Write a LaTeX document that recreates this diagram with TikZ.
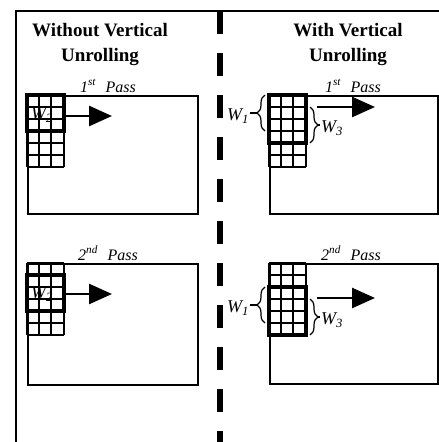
\documentclass[tikz,border=0pt]{standalone}
\usepackage{fontspec}
\setmainfont{Liberation Serif}
\usetikzlibrary{arrows.meta, decorations.pathreplacing}

\begin{document}
\begin{tikzpicture}[x=1pt, y=-1pt,
                    title text/.style={font=\fontsize{19}{25}\selectfont\bfseries, align=center},
                    pass text/.style={font=\fontsize{16}{18}\selectfont\itshape, anchor=base, inner sep=0pt},
                    pass box/.style={draw, line width=1.5pt, anchor=north west, inner sep=0pt,
                                     minimum width=170pt, minimum height=118pt},
                    win text/.style={font=\fontsize{18}{20}\selectfont\itshape, inner sep=1pt},
                    grid line/.style={line width=2pt},
                    win line/.style={line width=3.2pt},
                    move arrow/.style={line width=2.6pt, -{Triangle[length=23pt, width=20pt]}},
                    win brace/.style={decorate, decoration={brace, amplitude=8pt}, line width=1.2pt}]

    \useasboundingbox (0,0) rectangle (439,442);

    % frame and divider
    \draw[line width=1.5pt] (16,442) -- (16,11) -- (439,11);
    \draw[line width=6pt, dash pattern=on 23pt off 19pt] (220,11) -- (220,442);

    \node[title text] (titleL) at (100,45) {Without Vertical\\Unrolling};
    \node[title text] (titleR) at (348,45) {With Vertical\\Unrolling};

    \node[pass box]                                        (boxL1) at (27,95)  {};
    \node[pass box, minimum width=168pt]                   (boxR1) at (269,95) {};
    \node[pass box, minimum height=121pt]                  (boxL2) at (27,263) {};
    \node[pass box, minimum width=168pt, minimum height=120pt] (boxR2) at (269,263) {};

    \node[pass text] (passL1) at (108,92)  {1\textsuperscript{st}\hspace{0.6em}Pass};
    \node[pass text] (passR1) at (353,92)  {1\textsuperscript{st}\hspace{0.6em}Pass};
    \node[pass text] (passL2) at (108,260) {2\textsuperscript{nd}\hspace{0.6em}Pass};
    \node[pass text] (passR2) at (351,260) {2\textsuperscript{nd}\hspace{0.6em}Pass};

    % window grids (x, y, first thick row, thick rows)
    \foreach \gx/\gy/\wa/\wn in {27/95/0/3, 27/263/1/3, 269/95/0/4, 269/263/2/4} {
        \draw[grid line] (\gx,\gy) -- ++(0,72) (\gx+12,\gy) -- ++(0,72)
                         (\gx+24,\gy) -- ++(0,72) (\gx+37,\gy) -- ++(0,72);
        \foreach \rr in {0,...,6}
            \draw[grid line] (\gx,\gy+12*\rr) -- ++(37,0);
        \draw[win line] (\gx,\gy+12*\wa) rectangle ++(37,12*\wn);
    }

    \node[win text] (wL1) at (42,115) {W\textsubscript{2}};
    \node[win text] (wL2) at (42,294) {W\textsubscript{2}};

    % scan arrows
    \coordinate (aL1s) at (64,116);  \coordinate (aL1e) at (112,116);
    \coordinate (aL2s) at (64,294);  \coordinate (aL2e) at (112,294);
    \coordinate (aR1s) at (317,107); \coordinate (aR1e) at (375,107);
    \coordinate (aR2s) at (317,298); \coordinate (aR2e) at (375,298);
    \draw[move arrow] (aL1s) -- (aL1e);
    \draw[move arrow] (aL2s) -- (aL2e);
    \draw[move arrow] (aR1s) -- (aR1e);
    \draw[move arrow] (aR2s) -- (aR2e);

    % braces, 1st pass
    \coordinate (bR1a) at (265,131); \coordinate (bR1b) at (265,95);
    \coordinate (bR1c) at (310,107); \coordinate (bR1d) at (310,143);
    \draw[win brace] (bR1a) -- (bR1b);
    \draw[win brace] (bR1c) -- (bR1d);
    \coordinate (tR1a) at (257,113); \coordinate (tR1b) at (318,125);
    \node[win text, anchor=east] (w1R1) at (250,116) {W\textsubscript{1}};
    \node[win text, anchor=west] (w3R1) at (320,128) {W\textsubscript{3}};
    \draw[line width=1.2pt] (w1R1.east |- tR1a) -- (tR1a);
    \draw[line width=1.2pt] (tR1b) -- (w3R1.west |- tR1b);

    % braces, 2nd pass
    \coordinate (bR2a) at (265,323); \coordinate (bR2b) at (265,287);
    \coordinate (bR2c) at (310,299); \coordinate (bR2d) at (310,335);
    \draw[win brace] (bR2a) -- (bR2b);
    \draw[win brace] (bR2c) -- (bR2d);
    \coordinate (tR2a) at (257,305); \coordinate (tR2b) at (318,317);
    \node[win text, anchor=east] (w1R2) at (250,308) {W\textsubscript{1}};
    \node[win text, anchor=west] (w3R2) at (320,320) {W\textsubscript{3}};
    \draw[line width=1.2pt] (w1R2.east |- tR2a) -- (tR2a);
    \draw[line width=1.2pt] (tR2b) -- (w3R2.west |- tR2b);

\end{tikzpicture}
\end{document}
